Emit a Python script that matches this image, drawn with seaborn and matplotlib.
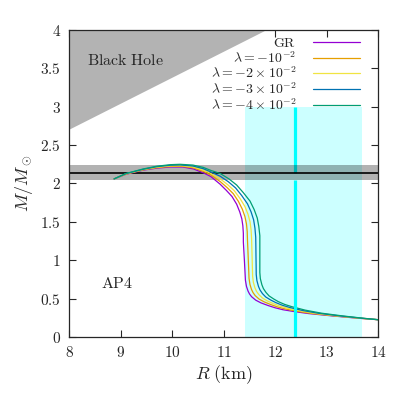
import matplotlib
matplotlib.use('Agg')
import matplotlib.pyplot as plt
import seaborn as sns
import pandas as pd

# mass-radius curves for AP4 (R in km, M in solar masses)
gr_R = [8.87, 9.1, 9.44, 9.7, 9.96, 10.2, 10.41, 10.6, 10.75, 10.93, 11.05, 11.16, 11.25, 11.31, 11.35, 11.37,
        11.38, 11.38, 11.39, 11.40, 11.41, 11.42, 11.44, 11.47, 11.50, 11.54, 11.62, 11.72, 11.86, 12.0,
        12.15, 12.38, 12.65, 13.1, 13.6, 14.0]
gr_M = [2.06, 2.12, 2.175, 2.20, 2.215, 2.215, 2.19, 2.14, 2.09, 1.99, 1.91, 1.83, 1.73, 1.63, 1.54, 1.45,
        1.35, 1.24, 1.12, 1.00, 0.87, 0.74, 0.66, 0.60, 0.56, 0.525, 0.48, 0.445, 0.41, 0.38,
        0.355, 0.33, 0.305, 0.275, 0.245, 0.225]

l1_R = [8.87, 9.1, 9.44, 9.7, 9.96, 10.19, 10.41, 10.6, 10.75, 10.93, 11.063, 11.183, 11.283, 11.36, 11.41, 11.44,
        11.455, 11.46, 11.468, 11.475, 11.483, 11.49, 11.508, 11.538, 11.568, 11.61, 11.685, 11.783, 11.91, 12.045,
        12.193, 12.43, 12.713, 13.15, 13.625, 14.0]
l1_M = [2.06, 2.122, 2.179, 2.206, 2.223, 2.224, 2.203, 2.158, 2.11, 2.025, 1.948, 1.868, 1.768, 1.665, 1.57, 1.475,
        1.373, 1.26, 1.14, 1.02, 0.89, 0.765, 0.685, 0.62, 0.578, 0.539, 0.494, 0.458, 0.423, 0.391,
        0.365, 0.335, 0.306, 0.275, 0.245, 0.225]

l2_R = [8.87, 9.1, 9.44, 9.7, 9.96, 10.175, 10.405, 10.6, 10.75, 10.93, 11.075, 11.205, 11.315, 11.41, 11.47, 11.51,
        11.53, 11.54, 11.545, 11.55, 11.555, 11.56, 11.575, 11.605, 11.635, 11.68, 11.75, 11.845, 11.96, 12.09,
        12.235, 12.48, 12.775, 13.2, 13.65, 14.0]
l2_M = [2.06, 2.125, 2.183, 2.213, 2.23, 2.233, 2.215, 2.175, 2.13, 2.06, 1.985, 1.905, 1.805, 1.70, 1.60, 1.50,
        1.395, 1.28, 1.16, 1.04, 0.91, 0.79, 0.71, 0.64, 0.595, 0.553, 0.508, 0.47, 0.435, 0.403,
        0.375, 0.34, 0.308, 0.275, 0.245, 0.225]

l3_R = [8.87, 9.1, 9.44, 9.7, 9.96, 10.16, 10.40, 10.6, 10.75, 10.93, 11.088, 11.228, 11.348, 11.46, 11.53, 11.58,
        11.605, 11.62, 11.623, 11.625, 11.628, 11.63, 11.643, 11.673, 11.703, 11.75, 11.815, 11.908, 12.01, 12.135,
        12.278, 12.53, 12.838, 13.25, 13.675, 14.0]
l3_M = [2.06, 2.128, 2.186, 2.219, 2.238, 2.241, 2.228, 2.193, 2.15, 2.095, 2.023, 1.943, 1.843, 1.735, 1.63, 1.525,
        1.418, 1.30, 1.18, 1.06, 0.93, 0.815, 0.735, 0.66, 0.613, 0.566, 0.521, 0.483, 0.448, 0.414,
        0.385, 0.345, 0.309, 0.275, 0.245, 0.225]

l4_R = [8.87, 9.1, 9.44, 9.7, 9.96, 10.15, 10.4, 10.6, 10.75, 10.93, 11.1, 11.25, 11.38, 11.51, 11.59, 11.65,
        11.68, 11.70, 11.70, 11.70, 11.70, 11.70, 11.71, 11.74, 11.77, 11.82, 11.88, 11.97, 12.06, 12.18,
        12.32, 12.58, 12.9, 13.3, 13.7, 14.0]
l4_M = [2.06, 2.13, 2.19, 2.225, 2.245, 2.25, 2.24, 2.21, 2.17, 2.13, 2.06, 1.98, 1.88, 1.77, 1.66, 1.55,
        1.44, 1.32, 1.20, 1.08, 0.95, 0.84, 0.76, 0.68, 0.63, 0.58, 0.535, 0.495, 0.46, 0.425,
        0.395, 0.35, 0.31, 0.275, 0.245, 0.225]

labels = [r'$\mathrm{GR}$', r'$\lambda=-10^{-2}$', r'$\lambda=-2\times10^{-2}$',
          r'$\lambda=-3\times10^{-2}$', r'$\lambda=-4\times10^{-2}$']
colors = ['#9400d3', '#e69f00', '#f0e442', '#0072b2', '#009e73']

# observational constraints
bh_R = [8.0, 11.81]          # R = 2GM/c^2 boundary
bh_M = [2.71, 4.0]
mmax_c, mmax_lo, mmax_hi = 2.14, 2.05, 2.24
nicer_c, nicer_lo, nicer_hi = 12.39, 11.41, 13.69
nicer_top = 3.0

xticks = [8, 9, 10, 11, 12, 13, 14]
yticks = [0, 0.5, 1, 1.5, 2, 2.5, 3, 3.5, 4]
ytick_labels = ['0', '0.5', '1', '1.5', '2', '2.5', '3', '3.5', '4']

curves = [(gr_R, gr_M), (l1_R, l1_M), (l2_R, l2_M), (l3_R, l3_M), (l4_R, l4_M)]
rows = []
for lab, (rr, mm) in zip(labels, curves):
    for r, m in zip(rr, mm):
        rows.append({'R': r, 'M': m, 'model': lab})
df = pd.DataFrame(rows)

sns.set_style('ticks')
plt.rcParams['mathtext.fontset'] = 'cm'
plt.rcParams['font.family'] = ['DejaVu Serif']

fig = plt.figure(figsize=(4.06, 4.03), dpi=100)
ax = fig.add_axes([0.1707, 0.1638, 0.761, 0.7618])

# black hole region
ax.fill_between(bh_R, bh_M, 4.0, color='#b3b3b3', lw=0, zorder=1)
# NICER radius band
ax.fill_between([nicer_lo, nicer_hi], 0, nicer_top, color='#ccffff', lw=0, zorder=1)
ax.plot([nicer_c, nicer_c], [mmax_c, nicer_top], color='cyan', lw=2.3, solid_capstyle='butt', zorder=2)
ax.plot([nicer_c, nicer_c], [0, mmax_lo], color='cyan', lw=2.3, solid_capstyle='butt', zorder=7)
# max mass band
ax.axhspan(mmax_lo, mmax_hi, color='black', alpha=0.3, lw=0, zorder=3)
ax.axhline(mmax_c, color='black', lw=1.2, zorder=4)

sns.lineplot(data=df, x='R', y='M', hue='model', palette=colors, sort=False,
             estimator=None, units='model', lw=0.9, ax=ax, legend=False, zorder=5)

handles = [plt.Line2D([], [], color=c, lw=0.9) for c in colors]
ax.legend(handles, labels, loc='upper right', bbox_to_anchor=(0.941, 0.98), frameon=False,
          markerfirst=False, fontsize=10, handlelength=3.4, handletextpad=1.2,
          labelspacing=0.0, borderaxespad=0, borderpad=0)

ax.text(9.1, 3.6, r'$\mathrm{Black\ Hole}$', fontsize=11.5, ha='center', va='center', zorder=8)
ax.text(8.93, 0.7, r'$\mathrm{AP4}$', fontsize=11.5, ha='center', va='center', zorder=8)

ax.set_xlim(8, 14)
ax.set_ylim(0, 4)
ax.set_xticks(xticks)
ax.set_xticklabels([f'${t}$' for t in xticks], fontsize=11)
ax.set_yticks(yticks)
ax.set_yticklabels([f'${t}$' for t in ytick_labels], fontsize=11)
ax.tick_params(direction='in', top=True, right=True, length=5, width=0.8, pad=6)
for s in ax.spines.values():
    s.set_linewidth(0.9)
    s.set_zorder(10)
ax.set_xlabel(r'$R\ (\mathrm{km})$', fontsize=13, labelpad=2)
ax.set_ylabel(r'$M/M_\odot$', fontsize=13, labelpad=4)

fig.savefig('out.png', dpi=100)
